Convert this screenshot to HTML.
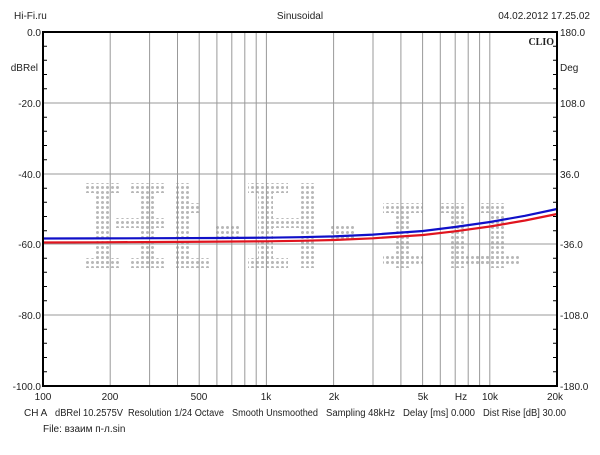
<!DOCTYPE html>
<html><head><meta charset="utf-8"><style>
body{margin:0;background:#fff;width:600px;height:450px;overflow:hidden}
svg text{font-family:"Liberation Sans",sans-serif;font-size:10px;fill:#222}
</style></head><body>
<svg width="600" height="450" viewBox="0 0 600 450">
<defs>
<pattern id="dots" width="5" height="5" patternUnits="userSpaceOnUse"><circle cx="2.5" cy="2.5" r="1.5" fill="#b8b8b8"/></pattern>
</defs>
<g fill="url(#dots)">
<rect x="85" y="183" width="35" height="10"/><rect x="95" y="193" width="15" height="75"/><rect x="85" y="258" width="35" height="10"/>
<rect x="130" y="183" width="35" height="10"/><rect x="140" y="193" width="15" height="75"/><rect x="130" y="258" width="35" height="10"/><rect x="115" y="218" width="50" height="10"/>
<rect x="175" y="183" width="15" height="85"/><rect x="175" y="203" width="25" height="10"/><rect x="175" y="258" width="35" height="10"/><rect x="215" y="225" width="25" height="15"/>
<rect x="248" y="183" width="40" height="10"/><rect x="258" y="193" width="15" height="75"/><rect x="248" y="258" width="40" height="10"/><rect x="268" y="218" width="35" height="10"/>
<rect x="300" y="183" width="15" height="85"/><rect x="330" y="225" width="25" height="15"/>
<rect x="383" y="203" width="40" height="10"/><rect x="395" y="213" width="15" height="55"/><rect x="383" y="255" width="40" height="10"/>
<rect x="440" y="203" width="25" height="10"/><rect x="450" y="213" width="15" height="55"/><rect x="455" y="255" width="40" height="10"/>
<rect x="480" y="203" width="25" height="10"/><rect x="490" y="213" width="15" height="55"/><rect x="475" y="255" width="45" height="10"/>
</g>
<g stroke="#999" stroke-width="1">
<line x1="43" y1="103" x2="557" y2="103"/><line x1="43" y1="174" x2="557" y2="174"/><line x1="43" y1="244" x2="557" y2="244"/><line x1="43" y1="315" x2="557" y2="315"/>
<line x1="110.2" y1="32" x2="110.2" y2="386"/><line x1="149.6" y1="32" x2="149.6" y2="386"/><line x1="177.5" y1="32" x2="177.5" y2="386"/><line x1="199.2" y1="32" x2="199.2" y2="386"/><line x1="216.9" y1="32" x2="216.9" y2="386"/><line x1="231.8" y1="32" x2="231.8" y2="386"/><line x1="244.8" y1="32" x2="244.8" y2="386"/><line x1="256.2" y1="32" x2="256.2" y2="386"/><line x1="266.4" y1="32" x2="266.4" y2="386"/>
<line x1="333.6" y1="32" x2="333.6" y2="386"/><line x1="373" y1="32" x2="373" y2="386"/><line x1="400.9" y1="32" x2="400.9" y2="386"/><line x1="422.6" y1="32" x2="422.6" y2="386"/><line x1="440.3" y1="32" x2="440.3" y2="386"/><line x1="455.2" y1="32" x2="455.2" y2="386"/><line x1="468.2" y1="32" x2="468.2" y2="386"/><line x1="479.6" y1="32" x2="479.6" y2="386"/><line x1="489.8" y1="32" x2="489.8" y2="386"/>
</g>
<g stroke="#000" stroke-width="1">
<path d="M43 46.2h4M43 60.3h4M43 74.5h4M43 88.7h4M43 117.2h4M43 131.3h4M43 145.5h4M43 159.7h4M43 188.2h4M43 202.3h4M43 216.5h4M43 230.7h4M43 258.2h4M43 272.3h4M43 286.5h4M43 300.7h4M43 329.2h4M43 343.3h4M43 357.5h4M43 371.7h4"/>
<path d="M557 46.2h-4M557 60.3h-4M557 74.5h-4M557 88.7h-4M557 117.2h-4M557 131.3h-4M557 145.5h-4M557 159.7h-4M557 188.2h-4M557 202.3h-4M557 216.5h-4M557 230.7h-4M557 258.2h-4M557 272.3h-4M557 286.5h-4M557 300.7h-4M557 329.2h-4M557 343.3h-4M557 357.5h-4M557 371.7h-4"/>
</g>
<polyline fill="none" stroke="#e0141e" stroke-width="2.2" points="43,242.5 100,242.3 160,242 220,241.6 266,241.3 300,240.8 334,240 373,238.3 423,235 455,231.3 490,226.5 525,220.5 557,214"/>
<polyline fill="none" stroke="#1010c8" stroke-width="2.2" points="43,238.5 100,238.4 160,238.2 220,238 266,237.7 300,237.2 334,236.4 373,234.6 423,231 455,227 490,222 525,215.8 557,209"/>
<rect x="43" y="32" width="514" height="354" fill="none" stroke="#000" stroke-width="2"/>
<text x="14" y="19">Hi-Fi.ru</text>
<text x="300" y="19" text-anchor="middle">Sinusoidal</text>
<text x="590" y="19" text-anchor="end">04.02.2012 17.25.02</text>
<text x="554" y="45" text-anchor="end" style="font-family:'Liberation Serif',serif;font-weight:bold;font-size:10px">CLIO</text>
<g text-anchor="end">
<text x="41" y="36">0.0</text><text x="38" y="71">dBRel</text><text x="41" y="107">-20.0</text><text x="41" y="178">-40.0</text><text x="41" y="248">-60.0</text><text x="41" y="319">-80.0</text><text x="41" y="390">-100.0</text>
</g>
<g>
<text x="560" y="36">180.0</text><text x="560" y="71">Deg</text><text x="560" y="107">108.0</text><text x="560" y="178">36.0</text><text x="560" y="248">-36.0</text><text x="560" y="319">-108.0</text><text x="560" y="390">-180.0</text>
</g>
<g text-anchor="middle">
<text x="43" y="400">100</text><text x="110" y="400">200</text><text x="199" y="400">500</text><text x="266" y="400">1k</text><text x="334" y="400">2k</text><text x="423" y="400">5k</text><text x="461" y="400">Hz</text><text x="490" y="400">10k</text><text x="555" y="400">20k</text>
</g>
<g style="font-size:9.5px">
<text x="24" y="416">CH A</text>
<text x="55" y="416" textLength="68" lengthAdjust="spacingAndGlyphs">dBRel 10.2575V</text>
<text x="128" y="416" textLength="96" lengthAdjust="spacingAndGlyphs">Resolution 1/24 Octave</text>
<text x="232" y="416" textLength="86" lengthAdjust="spacingAndGlyphs">Smooth Unsmoothed</text>
<text x="326" y="416" textLength="69" lengthAdjust="spacingAndGlyphs">Sampling 48kHz</text>
<text x="403" y="416" textLength="72" lengthAdjust="spacingAndGlyphs">Delay [ms] 0.000</text>
<text x="483" y="416" textLength="83" lengthAdjust="spacingAndGlyphs">Dist Rise [dB] 30.00</text>
<text x="43" y="432">File: взаим п-л.sin</text>
</g>
</svg>
</body></html>
